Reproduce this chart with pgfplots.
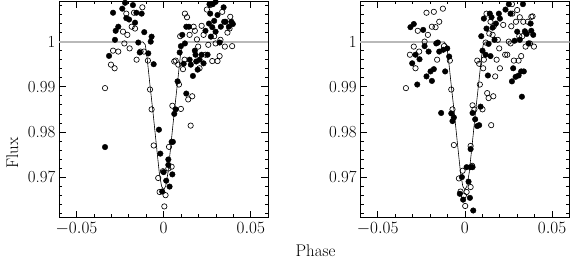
\documentclass[border=0pt]{standalone}
\usepackage{pgfplots}
\pgfplotsset{compat=1.18}
\begin{document}
\pgfplotstableread{
x y
-0.0336 0.97665
-0.0313 0.99684
-0.0290 1.0064
-0.0279 1.0004
-0.0275 1.0024
-0.0260 1.0033
-0.0237 1.0073
-0.0221 1.0086
-0.0214 1.0052
-0.0198 1.0049
-0.0176 1.0081
-0.0164 1.0042
-0.0156 1.0064
-0.0145 0.9998
-0.0137 0.9976
-0.0126 1.0062
-0.0111 1.0021
-0.0088 0.9974
-0.0074 1.0000
-0.0069 1.0011
-0.0057 0.9950
-0.0027 0.9805
-0.0019 0.9752
0.0000 0.9711
-0.0008 0.9668
0.0015 0.9692
0.0027 0.9739
0.0027 0.9727
0.0034 0.9679
0.0046 0.9778
0.0053 0.9778
0.0050 0.9706
0.0061 0.9840
0.0069 0.9850
0.0080 0.9912
0.0092 0.9976
0.0099 0.9990
0.0107 1.0015
0.0115 0.9951
0.0122 0.9996
0.0130 1.0033
0.0130 0.9885
0.0145 1.0033
0.0149 0.9960
0.0156 0.9949
0.0168 0.9924
0.0179 0.9980
0.0183 0.9971
0.0187 0.9956
0.0195 0.9938
0.0206 0.9960
0.0218 0.9971
0.0229 0.9952
0.0240 1.0024
0.0252 0.9971
0.0260 1.0040
0.0263 1.0083
0.0267 1.0062
0.0271 1.0011
0.0279 1.0032
0.0282 1.0083
0.0290 1.0046
0.0298 1.0022
0.0298 1.0088
0.0309 1.0059
0.0321 0.9998
0.0328 1.0033
0.0344 1.0076
0.0347 1.0044
0.0355 1.0044
0.0374 1.0033
0.0389 1.0044
0.0397 1.0039
}\LF
\pgfplotstableread{
x y
-0.0336 0.9897
-0.0302 0.9949
-0.0290 0.9980
-0.0281 0.9941
-0.0260 0.9978
-0.0233 1.0022
-0.0225 0.9996
-0.0214 1.0062
-0.0208 1.0015
-0.0195 0.9985
-0.0183 1.0033
-0.0170 1.0064
-0.0164 1.0029
-0.0155 0.9960
-0.0132 0.9978
-0.0122 1.0076
-0.0113 0.9978
-0.0090 0.9958
-0.0078 0.9894
-0.0069 0.9850
-0.0057 0.9770
-0.0031 0.9698
-0.0023 0.9667
-0.0004 0.9713
0.0004 0.9635
0.0011 0.9660
0.0027 0.9719
0.0031 0.9767
0.0046 0.9723
0.0050 0.9858
0.0061 0.9956
0.0069 0.9958
0.0084 0.9949
0.0088 0.9905
0.0095 1.0012
0.0099 0.9851
0.0111 0.9939
0.0120 0.9960
0.0122 1.0062
0.0134 1.0054
0.0141 0.9872
0.0149 1.0015
0.0155 0.9814
0.0164 0.9879
0.0172 1.0033
0.0179 1.0024
0.0191 1.0005
0.0198 0.9989
0.0206 0.9941
0.0218 1.0035
0.0229 1.0015
0.0240 0.9971
0.0248 1.0071
0.0256 0.9993
0.0267 1.0081
0.0279 0.9957
0.0290 1.0012
0.0298 0.9996
0.0309 0.9957
0.0321 0.9968
0.0326 1.0004
0.0336 1.0066
0.0351 0.9989
0.0366 1.0020
0.0378 1.0029
0.0382 1.0055
0.0393 0.9990
}\LO
\pgfplotstableread{
x y
-0.0312 1.0032
-0.0293 1.0039
-0.0302 0.9952
-0.0283 0.9971
-0.0273 0.9905
-0.0260 0.9961
-0.0239 1.0026
-0.0231 0.9990
-0.0220 0.9923
-0.0208 0.9978
-0.0197 0.9934
-0.0189 0.9913
-0.0178 0.9939
-0.0164 0.9996
-0.0155 0.9998
-0.0147 0.9978
-0.0136 0.9842
-0.0124 0.9982
-0.0113 0.9934
-0.0101 0.9985
-0.0090 0.9967
-0.0078 0.9841
-0.0071 0.9824
-0.0063 0.9832
-0.0017 0.9700
-0.0029 0.9663
-0.0010 0.9650
0.0010 0.9722
0.0021 0.9690
0.0029 0.9654
0.0033 0.9722
0.0033 0.9762
0.0044 0.9722
0.0048 0.9626
0.0044 0.9842
0.0059 0.9828
0.0071 0.9813
0.0082 0.9815
0.0090 0.9856
0.0094 1.0012
0.0101 0.9980
0.0109 1.0051
0.0119 0.9971
0.0124 1.0029
0.0132 0.9925
0.0136 0.9995
0.0143 1.0062
0.0147 0.9968
0.0153 1.0054
0.0159 1.0031
0.0170 1.0004
0.0178 1.0040
0.0195 1.0062
0.0201 1.0051
0.0233 1.0071
0.0252 1.0083
0.0262 1.0062
0.0270 0.9912
0.0277 0.9941
0.0285 1.0002
0.0291 0.9922
0.0300 1.0022
0.0308 0.9925
0.0315 1.0004
0.0323 0.9934
0.0327 0.9878
0.0333 1.0083
0.0338 0.9934
0.0344 1.0023
0.0354 1.0017
0.0365 0.9996
0.0377 1.0040
0.0381 1.0024
0.0392 1.0015
}\RF
\pgfplotstableread{
x y
-0.0338 0.9897
-0.0315 0.9971
-0.0293 0.9989
-0.0283 0.9941
-0.0270 1.0024
-0.0262 0.9978
-0.0231 1.0000
-0.0220 1.0064
-0.0212 1.0015
-0.0189 1.0033
-0.0178 1.0066
-0.0168 1.0032
-0.0159 0.9960
-0.0147 1.0044
-0.0126 1.0073
-0.0120 0.9990
-0.0086 0.9958
-0.0078 0.9894
-0.0071 0.9850
-0.0063 0.9771
-0.0034 0.9697
-0.0025 0.9668
-0.0013 0.9714
-0.0006 0.9659
0.0002 0.9636
0.0010 0.9667
0.0033 0.9769
0.0033 0.9678
0.0042 0.9725
0.0044 0.9859
0.0055 0.9850
0.0071 0.9958
0.0082 0.9951
0.0086 0.9905
0.0101 0.9850
0.0105 0.9941
0.0109 0.9960
0.0119 0.9998
0.0124 1.0062
0.0128 0.9886
0.0136 0.9875
0.0140 1.0018
0.0147 1.0044
0.0151 0.9815
0.0159 1.0015
0.0163 0.9879
0.0166 1.0034
0.0174 0.9923
0.0182 0.9960
0.0189 1.0004
0.0201 0.9941
0.0197 0.9985
0.0220 1.0037
0.0231 0.9971
0.0243 0.9971
0.0252 1.0000
0.0262 0.9996
0.0266 1.0034
0.0270 1.0083
0.0272 1.0062
0.0281 0.9958
0.0293 1.0044
0.0300 1.0070
0.0308 0.9958
0.0312 1.0012
0.0315 1.0054
0.0323 0.9968
0.0329 1.0012
0.0335 1.0044
0.0348 0.9989
0.0361 1.0044
0.0373 0.9996
0.0381 1.0055
0.0388 1.0056
0.0396 0.9989
}\RO
\pgfplotstableread{
x y
-0.0120 1.0000
-0.0105 0.9993
-0.0095 0.9965
-0.0080 0.9910
-0.0060 0.9840
-0.0040 0.9765
-0.0025 0.9710
-0.0012 0.9680
0.0000 0.9672
0.0012 0.9680
0.0025 0.9710
0.0040 0.9765
0.0060 0.9840
0.0080 0.9910
0.0095 0.9965
0.0105 0.9993
0.0120 1.0000
}\MV
\pgfplotsset{
  panel/.style={
    anchor=south west, scale only axis,
    width=210.5pt, height=218pt,
    xmin=-0.06, xmax=0.06, ymin=0.961, ymax=1.009,
    scaled x ticks=false, scaled y ticks=false,
    xtick={-0.05,0,0.05},
    xticklabels={$-0.05$,$0$,$0.05$},
    minor xtick={-0.06,-0.04,-0.03,-0.02,-0.01,0.01,0.02,0.03,0.04,0.06},
    ytick={0.97,0.98,0.99,1},
    minor ytick={0.962,0.964,0.966,0.968,0.972,0.974,0.976,0.978,0.982,0.984,0.986,0.988,0.992,0.994,0.996,0.998,1.002,1.004,1.006,1.008},
    tick align=inside, xtick pos=both, ytick pos=both,
    major tick length=7pt, minor tick length=3.5pt,
    every tick/.style={black, line width=0.7pt},
    axis line style={line width=0.8pt},
    tick label style={font=\fontsize{17}{20}\selectfont},
    xticklabel style={yshift=-1pt},
    clip=true,
  },
  fmark/.style={only marks, mark=*, mark size=2.8pt, mark options={fill=black, draw=black}},
  omark/.style={only marks, mark=o, mark size=2.7pt, mark options={draw=black, line width=0.65pt}},
}
\begin{tikzpicture}[x=1pt,y=1pt]
\useasboundingbox (0,0) rectangle (570,262);
\begin{axis}[panel, at={(56pt,43pt)},
  yticklabels={0.97,0.98,0.99,1}]
\addplot[gray!55, line width=2pt] coordinates {(-0.06,1) (-0.012,1)};
\addplot[gray!55, line width=2pt] coordinates {(0.012,1) (0.06,1)};
\addplot[black, line width=0.6pt] table {\MV};
\addplot[fmark] table {\LF};
\addplot[omark] table {\LO};
\end{axis}
\begin{axis}[panel, at={(359pt,43pt)},
  yticklabels={0.97,0.98,0.99,1}]
\addplot[gray!55, line width=2pt] coordinates {(-0.06,1) (-0.012,1)};
\addplot[gray!55, line width=2pt] coordinates {(0.012,1) (0.06,1)};
\addplot[black, line width=0.6pt] table {\MV};
\addplot[fmark] table {\RF};
\addplot[omark] table {\RO};
\end{axis}
\node[rotate=90, font=\fontsize{17}{20}\selectfont] at (9,108) {Flux};
\node[font=\fontsize{17}{20}\selectfont] at (314,10) {Phase};
\end{tikzpicture}
\end{document}
